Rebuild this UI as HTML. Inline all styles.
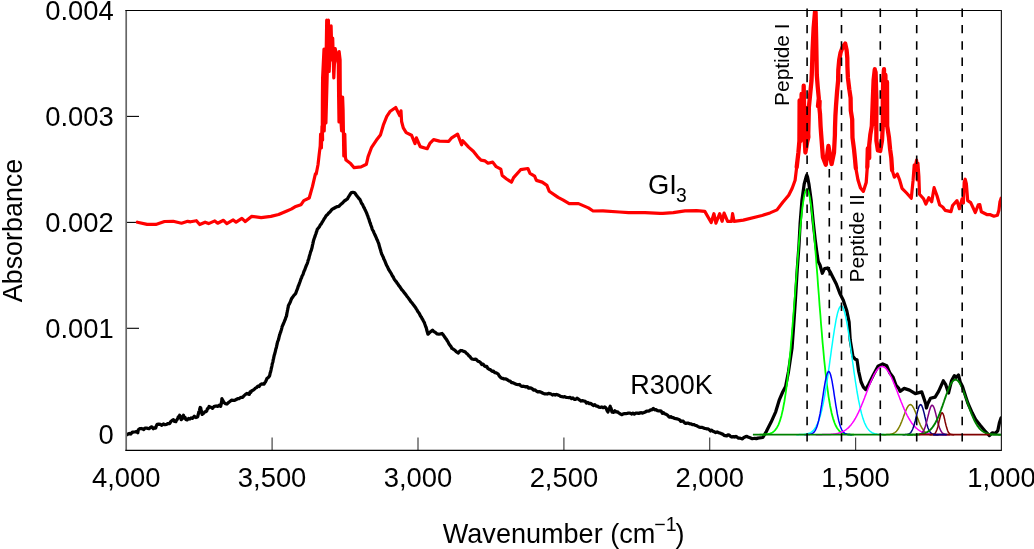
<!DOCTYPE html>
<html><head><meta charset="utf-8"><title>FTIR absorbance spectra</title>
<style>
html,body{margin:0;padding:0;background:#fff;}
body{width:1034px;height:549px;overflow:hidden;}
svg{display:block;}
text{font-family:"Liberation Sans",Arial,Helvetica,sans-serif;fill:#000;}
.t{font-size:27.4px;}
.p{font-size:20.9px;}
</style></head><body>
<svg width="1034" height="549" viewBox="0 0 1034 549">
<rect width="1034" height="549" fill="#fff"/>
<defs><clipPath id="c"><rect x="126.2" y="9.9" width="875.4" height="441"/></clipPath></defs>

<text class="t" x="113.8" y="19.9" text-anchor="end">0.004</text>
<line x1="126.2" y1="116.4" x2="139" y2="116.4" stroke="#000" stroke-width="1.1"/>
<text class="t" x="113.8" y="125.8" text-anchor="end">0.003</text>
<line x1="126.2" y1="222.4" x2="139" y2="222.4" stroke="#000" stroke-width="1.1"/>
<text class="t" x="113.8" y="231.8" text-anchor="end">0.002</text>
<line x1="126.2" y1="328.3" x2="139" y2="328.3" stroke="#000" stroke-width="1.1"/>
<text class="t" x="113.8" y="337.7" text-anchor="end">0.001</text>
<text class="t" x="113.8" y="443.6" text-anchor="end">0</text>
<g clip-path="url(#c)">
<polyline points="137.4,222.2 147.1,224.4 155.8,224.4 164.5,221.5 173.2,221.3 181.5,223.2 187.7,221.3 190.6,221.8 196.4,220.7 199.7,224.5 205.1,222.2 208.6,223.6 214.8,220.9 217.7,223.2 223.5,220.3 226.8,223.6 233.2,219.9 236.1,222.2 241.9,218.4 245.3,221.6 251.5,216.4 261.2,217.6 270.9,216.4 278.6,214.5 286.3,211.2 291.2,209.1 295.0,206.8 300.9,204.8 303.8,200.6 309.2,198.0 312.5,186.4 315.4,173.9 316.2,174.0 318.0,164.8 319.2,154.3 320.2,146.0 320.6,134.0 321.4,148.0 322.0,126.0 322.6,140.0 322.3,124.0 322.4,100.0 322.6,78.0 324.0,49.0 324.4,85.0 324.2,131.0 325.6,85.0 326.4,40.0 326.7,20.2 327.0,50.0 326.2,100.0 325.9,123.0 327.6,60.0 328.4,20.2 329.0,50.0 329.2,71.5 330.0,50.0 331.1,25.8 331.6,45.0 332.2,60.0 332.7,38.0 333.8,78.0 334.6,60.0 335.2,48.5 336.5,55.0 338.3,64.0 338.6,95.0 339.0,122.0 339.4,95.0 339.6,70.0 339.1,51.5 340.1,60.0 340.3,95.0 341.0,122.0 341.6,131.0 342.6,97.0 343.1,110.0 343.4,131.0 343.8,156.0 344.8,134.0 345.4,157.0 346.0,160.1 350.6,163.6 354.1,167.7 361.1,166.9 366.4,164.2 368.1,156.6 371.6,147.3 376.3,140.3 380.4,135.1 383.3,125.2 386.8,116.4 390.3,111.2 395.7,107.5 399.8,115.7 401.0,110.8 401.6,121.5 403.3,127.9 406.2,132.6 411.5,135.2 415.0,143.6 416.4,137.8 420.2,146.6 427.2,148.7 430.1,143.1 433.6,139.6 439.5,141.1 448.8,141.3 451.7,137.8 457.6,134.1 461.6,144.8 462.8,140.7 468.6,147.1 473.3,151.2 477.5,156.6 481.0,160.1 485.1,160.9 488.0,163.2 492.7,162.1 496.2,166.7 500.8,169.1 502.2,175.5 506.6,179.0 511.5,182.2 513.6,177.6 520.6,169.7 527.9,168.5 530.0,173.4 534.6,176.1 536.4,180.4 542.2,182.1 546.9,185.4 549.2,191.2 558.1,197.4 563.3,200.1 569.2,203.6 578.5,203.6 588.4,207.9 593.1,211.0 603.0,210.8 619.3,212.0 628.6,212.6 645.0,212.6 660.0,213.4 662.8,213.4 673.3,212.6 685.0,210.8 696.6,210.6 704.8,211.4 711.2,222.5 713.9,213.7 715.9,223.1 719.7,213.7 722.1,221.3 724.1,213.1 727.6,221.3 731.6,221.3 732.6,213.7 734.0,221.3 743.3,220.1 762.0,215.5 770.0,212.9 777.0,209.9 782.8,202.3 788.7,195.3 792.2,188.3 795.1,180.2 796.7,167.0" fill="none" stroke="#f00" stroke-width="3.2" stroke-linejoin="round" stroke-linecap="round"/>
<polyline points="796.7,167.0 798.4,152.5 799.4,141.0 799.6,100.5 800.6,141.0 801.6,94.0 802.6,139.0 803.7,85.7 804.6,138.0 805.4,152.5 807.2,142.0 808.4,137.0 807.2,108.0 808.2,136.0 808.6,120.0 808.9,107.0 811.5,80.8 812.0,69.0 812.5,51.6 813.6,28.3 815.0,12.0 815.4,9.0 814.7,57.0 815.6,12.0 816.2,40.0 816.7,69.0 816.8,75.0 817.7,86.7 818.8,98.3 818.0,106.0 819.6,101.0 819.4,108.0 820.0,113.7 820.6,126.6 821.2,135.0 822.9,157.2 825.8,164.7 828.4,146.0 831.6,164.0 834.0,152.5 834.9,135.0 835.0,128.0 835.4,116.0 836.0,106.0 837.0,92.5 838.1,80.8 838.3,70.0 839.2,60.0 840.6,52.5 842.5,47.5 845.2,43.6 846.6,50.0 847.3,58.0 847.4,66.0 847.9,77.7 849.3,89.3 850.6,98.0 850.8,110.6 852.2,119.3 852.3,128.0 852.5,137.7 854.0,149.3 854.9,158.0 855.8,168.0" fill="none" stroke="#f00" stroke-width="4.3" stroke-linejoin="round" stroke-linecap="round"/>
<polyline points="867.3,167.0 867.8,148.5 869.2,158.0 869.2,145.2 870.3,134.7 871.8,126.0 872.8,100.0 873.6,80.0 874.8,69.2 874.6,124.0 875.6,72.0 876.4,100.0 876.3,126.0 876.4,140.6 877.9,150.5 880.2,151.0 882.0,140.6 882.8,126.0 882.8,100.0 883.2,80.0 884.0,69.2 884.4,125.0 885.4,75.0 886.2,124.0 887.0,82.0 887.2,126.0 889.0,137.7 890.1,149.3 891.3,158.0 892.1,170.0" fill="none" stroke="#f00" stroke-width="4.3" stroke-linejoin="round" stroke-linecap="round"/>
<polyline points="855.8,168.0 858.0,180.0 860.5,188.0 863.4,191.3 866.2,182.5 867.3,167.0" fill="none" stroke="#f00" stroke-width="3.3" stroke-linejoin="round" stroke-linecap="round"/>
<polyline points="892.1,170.0 894.4,177.2 897.3,174.0 899.7,180.2 902.0,188.3 906.6,193.0 911.3,198.2 913.1,180.2 914.2,165.0 915.0,168.0 916.6,160.0 917.2,180.0 917.9,163.0 918.9,176.7 919.5,194.2 923.6,198.8 925.9,204.0 928.8,197.7 931.7,201.7 934.1,187.7 937.0,195.7 939.7,205.0 942.7,207.0 945.2,210.4 951.0,211.6 952.6,205.5 957.0,200.6 959.4,208.7 962.1,199.0 963.4,203.0 964.2,182.0 965.2,179.2 966.4,184.0 967.7,200.6 970.7,202.6 972.8,207.2 975.3,212.5 978.3,204.8 979.8,204.6 981.3,211.7 987.3,214.7 990.4,214.7 993.9,216.2 997.4,215.2 998.9,210.2 999.9,202.1 1001.2,198.1" fill="none" stroke="#f00" stroke-width="3.2" stroke-linejoin="round" stroke-linecap="round"/>
<polyline points="126.2,435.1 127.7,434.3 129.3,433.5 130.8,434.1 132.4,432.0 133.9,432.0 135.2,431.9 136.5,431.6 137.8,432.7 138.2,430.3 138.6,429.5 139.9,428.6 141.2,428.5 142.5,428.9 143.8,429.6 145.0,428.0 146.3,428.0 147.7,428.4 149.0,428.7 150.4,427.5 151.8,426.8 153.3,428.7 154.9,427.6 155.6,428.1 156.4,425.8 157.2,424.3 158.7,424.1 160.3,424.4 161.8,425.3 163.4,424.0 164.9,424.7 166.5,424.4 168.0,423.5 169.6,423.5 170.9,421.5 172.1,420.5 173.4,419.8 174.6,421.5 175.8,421.7 176.4,420.4 177.1,419.7 177.7,418.3 178.3,416.8 179.0,416.7 179.6,415.3 180.2,416.0 180.7,418.2 181.2,419.6 182.0,419.0 182.7,417.4 183.5,415.3 184.3,417.9 185.1,417.5 185.8,419.4 187.2,419.9 188.5,418.5 189.9,419.0 191.3,417.9 192.3,418.3 193.3,417.6 194.3,416.3 195.9,417.5 197.4,416.9 197.8,416.4 198.1,414.9 198.5,413.6 198.8,412.1 199.2,411.6 199.5,410.6 199.9,408.4 200.2,407.5 200.7,407.8 201.2,410.7 201.6,412.1 202.1,414.4 203.4,413.5 204.7,411.9 206.0,411.6 206.7,411.0 207.5,408.5 208.3,408.3 209.1,406.5 210.2,407.0 211.4,407.5 212.6,408.4 213.9,406.6 215.1,406.2 216.3,406.0 217.6,406.4 219.1,405.2 220.7,406.3 220.9,405.0 221.2,404.3 221.4,402.7 221.7,401.3 221.9,398.7 222.9,400.7 223.8,402.2 225.3,403.6 226.9,404.0 228.4,402.6 229.5,401.8 230.5,401.0 231.5,400.1 233.1,400.4 234.6,400.4 236.2,399.5 237.7,398.7 239.0,398.7 240.2,397.8 241.4,397.4 242.7,397.3 243.9,395.9 245.5,394.4 247.0,393.5 249.3,394.4 250.1,391.8 250.9,392.2 251.7,390.7 252.9,390.3 254.1,389.5 255.4,388.1 256.6,387.5 257.9,386.2 259.1,386.5 260.4,384.6 261.7,383.8 264.1,384.1 264.8,382.7 265.6,381.7 266.4,379.8 267.1,378.3 268.3,377.5 269.5,375.9 269.9,374.6 270.2,372.8 270.6,371.8 271.0,370.1 271.3,368.5 271.6,367.3 271.9,366.0 272.1,364.8 272.4,363.3 272.7,362.5 273.0,361.3 273.2,359.7 273.6,358.4 273.9,356.8 274.2,355.4 274.6,354.3 274.9,352.9 275.2,352.0 275.6,350.2 275.9,348.7 276.2,348.1 276.6,346.4 276.9,344.9 277.2,343.8 277.5,342.1 277.9,341.1 278.3,340.2 278.7,338.8 279.0,337.4 279.4,335.8 279.8,334.6 280.2,333.1 280.6,332.3 281.0,330.8 281.4,329.7 281.8,328.1 282.1,326.7 282.5,325.8 283.1,324.6 283.6,323.2 284.2,321.9 284.7,320.5 285.3,319.2 285.8,317.5 286.4,316.3 286.7,314.9 286.9,313.3 287.2,311.9 287.4,310.8 287.7,309.4 287.9,308.3 288.2,307.2 288.4,305.5 289.1,304.4 289.8,303.0 290.5,301.6 291.1,299.8 291.8,298.3 292.6,297.2 293.4,296.1 294.1,295.1 294.9,294.3 295.7,293.4 296.2,292.0 296.7,290.5 297.2,289.3 297.7,288.1 298.2,286.3 298.7,285.4 299.1,284.2 299.6,282.8 300.1,281.5 300.6,280.0 301.1,278.5 301.6,277.6 302.1,276.0 302.7,275.0 303.2,273.8 303.7,272.2 304.2,270.9 304.7,270.0 305.2,268.5 305.8,266.9 306.3,265.6 306.8,264.3 307.3,263.5 307.7,262.1 308.1,260.4 308.5,259.6 308.9,258.4 309.2,256.9 309.6,255.4 310.0,254.2 310.4,252.7 310.8,251.3 311.2,250.6 311.6,249.1 312.0,247.8 312.2,246.7 312.5,245.1 312.8,244.1 313.1,242.7 313.4,241.1 313.8,239.8 314.2,238.5 314.7,237.2 315.1,236.1 315.5,234.7 316.0,233.5 316.4,232.0 316.8,231.2 317.2,229.5 318.0,228.4 318.8,227.4 319.6,226.4 320.3,224.9 321.1,224.1 321.9,222.7 322.7,221.4 323.4,220.2 324.2,218.7 325.0,217.7 325.8,216.3 326.6,215.2 327.5,214.7 328.4,213.3 329.3,212.5 330.2,211.6 331.1,210.5 332.0,209.4 333.2,208.7 334.5,208.0 335.8,207.3 337.4,206.6 338.9,206.4 340.0,205.2 341.1,204.1 342.2,203.3 343.3,202.1 344.3,201.0 345.9,200.0 347.4,198.9 348.2,197.4 349.0,196.2 349.8,194.9 350.5,193.7 351.3,192.6 352.9,192.4 354.4,192.5 355.3,193.6 356.2,195.0 357.1,196.1 358.0,197.3 358.9,198.5 359.8,199.3 360.5,200.7 361.1,202.2 361.7,203.4 362.4,204.3 363.0,205.5 363.6,207.0 364.3,208.0 364.9,209.4 365.5,210.6 366.2,212.2 366.8,213.5 367.3,214.9 367.7,215.7 368.2,217.4 368.6,218.6 369.1,219.6 369.5,221.3 370.0,222.7 370.4,223.5 370.9,225.3 371.3,226.2 371.8,227.6 372.2,229.2 372.8,230.3 373.4,231.2 373.9,232.6 374.5,233.9 375.0,235.1 375.6,236.3 376.2,237.6 376.7,239.1 377.3,240.0 377.9,241.6 378.4,242.8 378.8,243.9 379.2,245.5 379.6,247.1 380.0,248.4 380.4,249.5 380.9,251.4 381.3,252.7 381.7,254.2 382.2,255.0 382.8,256.3 383.4,257.5 383.9,259.2 384.5,260.1 385.0,261.3 385.6,262.8 386.2,264.3 386.7,265.5 387.3,266.5 387.9,267.7 388.5,269.3 389.2,270.3 389.9,271.6 390.6,272.5 391.3,273.6 392.0,275.2 392.7,276.3 393.4,277.3 394.1,279.0 394.8,279.9 395.6,281.1 396.4,281.7 397.1,283.3 397.9,283.9 398.7,285.4 399.5,286.3 400.2,287.3 401.0,288.5 401.8,289.8 402.6,290.5 403.4,291.5 404.3,292.8 405.1,293.7 405.9,294.8 406.7,295.9 407.5,296.9 408.4,298.1 409.2,299.2 410.0,300.3 411.0,301.9 412.0,302.9 413.0,304.3 413.9,305.4 414.7,306.6 415.5,307.6 416.3,308.9 417.0,309.9 417.8,311.5 418.6,312.6 419.3,313.5 419.9,314.8 420.6,316.3 421.3,316.9 422.0,318.5 422.7,319.5 423.3,320.7 424.0,322.0 424.5,323.0 424.9,324.3 425.4,325.7 425.9,327.1 426.3,327.9 426.7,329.8 427.1,331.2 427.5,332.7 427.9,334.2 429.0,333.2 430.2,332.0 431.4,331.1 432.5,330.1 433.7,331.5 434.9,332.1 436.0,333.0 437.2,334.0 438.8,334.2 440.5,333.9 442.1,333.5 443.0,334.5 443.9,335.8 444.7,337.0 445.6,338.4 446.5,339.4 447.2,340.8 448.0,341.9 448.8,343.6 449.6,344.8 450.3,345.7 451.1,346.8 451.9,348.4 452.9,348.9 454.0,349.7 455.0,350.3 456.0,351.4 457.1,352.3 458.1,353.1 459.4,351.6 460.7,350.5 462.2,350.7 463.6,351.4 465.1,351.8 466.1,353.0 467.0,353.7 468.0,354.7 469.0,355.9 470.0,356.6 471.0,358.1 472.0,359.0 474.0,359.4 475.9,359.2 477.1,360.3 478.2,361.5 479.4,361.7 480.5,362.6 481.8,364.5 483.0,364.1 484.3,365.8 485.5,366.5 486.7,366.4 487.8,368.4 489.0,369.2 490.1,369.6 491.3,370.6 492.5,371.4 493.6,371.2 494.8,372.6 496.3,372.9 497.9,373.8 498.7,374.9 499.4,376.2 500.2,377.0 501.4,378.1 502.6,378.3 503.9,378.9 505.1,378.8 506.3,379.1 507.5,379.9 508.7,380.8 510.1,381.0 511.4,382.6 512.8,382.7 514.1,383.3 515.5,383.9 516.9,384.5 518.2,384.7 519.6,384.5 520.9,386.0 522.1,386.3 523.4,386.2 524.7,386.6 526.0,387.1 527.3,386.6 528.6,388.1 529.9,387.9 531.2,388.2 532.5,389.0 533.8,390.2 535.1,389.9 536.4,391.1 537.7,391.9 539.0,391.7 540.4,391.9 541.7,392.5 543.0,393.3 544.3,393.8 545.7,393.8 547.1,394.0 548.4,393.4 549.8,393.7 551.1,394.0 552.5,395.0 553.8,394.5 555.2,395.1 556.5,394.5 557.9,394.9 559.3,395.5 560.6,396.4 562.0,396.7 563.3,397.0 564.7,396.7 566.0,397.3 567.4,397.5 568.8,397.7 570.2,397.4 571.5,398.7 572.9,397.9 574.3,399.3 575.7,399.4 577.0,398.2 578.4,399.1 579.8,400.2 581.1,401.0 582.5,400.7 583.8,401.0 585.2,401.4 586.6,403.1 587.9,402.5 589.3,403.6 590.6,403.4 592.0,404.4 593.4,405.5 594.8,404.7 596.2,406.1 597.5,406.1 598.9,407.1 600.3,407.3 601.7,407.0 603.2,407.7 604.8,406.9 605.5,407.5 606.3,408.7 607.1,410.7 607.9,412.0 608.4,410.4 609.0,408.8 609.6,407.7 610.2,406.3 610.6,408.4 611.1,408.3 611.6,410.7 612.0,412.1 612.5,412.2 613.7,412.3 614.8,410.8 616.2,412.0 617.5,411.9 618.9,413.0 620.2,413.9 621.6,414.7 623.0,414.0 624.4,413.6 625.8,413.7 627.2,413.4 628.6,413.0 630.0,413.0 631.5,414.0 632.9,413.2 634.3,414.1 635.8,413.1 637.2,413.1 638.7,413.4 640.1,412.9 641.4,412.7 642.7,413.1 644.0,412.6 645.3,412.0 646.6,411.2 647.9,411.2 649.2,410.9 650.6,409.9 651.9,409.8 653.3,408.4 654.7,409.8 656.0,409.7 657.4,410.6 658.7,410.8 659.9,410.9 661.1,411.2 662.3,413.2 663.5,412.6 664.7,413.8 666.0,414.3 667.2,414.9 668.4,416.2 669.6,417.2 670.8,416.6 672.0,417.6 673.3,417.6 674.5,418.4 675.8,418.6 677.0,418.8 678.2,419.2 679.5,419.7 680.7,421.3 682.0,421.1 683.2,421.2 684.5,422.8 685.8,423.4 687.1,423.1 688.4,423.2 689.7,423.8 691.1,423.9 692.4,424.7 693.8,424.6 695.1,425.2 696.5,425.6 697.8,426.4 699.2,427.2 700.5,427.4 701.8,427.3 703.0,427.7 704.3,428.3 705.5,428.5 706.7,428.8 708.0,428.9 709.2,429.6 710.5,431.0 711.7,430.2 712.9,431.2 714.3,431.8 715.7,432.6 717.1,432.0 718.4,432.6 719.8,433.0 721.2,433.6 722.6,434.1 724.0,435.3 725.3,435.6 726.7,435.9 728.0,434.9 729.3,435.2 730.6,436.4 732.0,437.0 733.3,436.6 734.6,437.0 735.9,436.4 737.2,437.2 738.5,438.2 739.8,438.2 741.1,438.5 742.4,438.9 743.9,437.4 745.5,436.7 747.0,436.4 748.6,437.3 750.1,437.8 751.7,438.5 753.2,438.5 754.8,438.4 756.3,438.6 757.9,438.1 762.8,437.5 766.3,431.6 771.0,422.3 775.7,411.8 779.2,400.2 782.7,392.0 785.6,386.5 788.5,371.6 792.0,348.3 793.7,325.0 795.4,300.0 797.2,270.0 799.0,245.0 800.1,224.0 801.9,200.8 804.2,184.0 806.0,177.3 806.8,175.0 807.6,177.3 808.9,184.0 811.2,200.8 813.2,222.0 815.2,240.0 816.5,250.0 818.2,261.6 820.0,265.0 822.3,273.3 824.6,268.6 827.6,268.0 830.5,272.5 831.6,274.7 836.3,284.0 839.8,293.3 843.3,300.3 846.8,310.8 849.1,322.0 850.2,340.0 852.9,356.3 855.2,359.2 857.0,359.8 858.7,371.5 861.1,382.0 863.4,387.2 865.7,389.6 868.7,384.3 873.3,375.0 878.0,366.2 882.7,363.9 886.7,365.7 889.7,372.7 893.1,377.3 896.1,385.5 898.4,387.8 900.1,391.3 904.2,388.4 909.5,390.1 915.3,393.6 921.7,391.9 923.5,397.1 925.8,404.0 926.4,408.0 927.6,404.0 930.5,398.3 935.1,397.1 938.6,391.3 943.3,380.8 945.6,384.3 948.5,393.0 951.5,380.8 954.4,375.6 956.1,377.3 958.5,375.0 960.2,382.0 962.5,386.6 965.5,396.0 967.8,403.0 972.2,412.8 975.6,419.4 980.0,425.0 985.6,431.7 989.4,435.6 992.2,432.8 995.6,433.3 997.8,430.6 999.4,422.8 1001.1,417.8" fill="none" stroke="#000" stroke-width="3.25" stroke-linejoin="round" stroke-linecap="round"/>
<polyline points="759.6,434.7 760.4,434.7 761.1,434.6 761.9,434.6 762.6,434.6 763.4,434.6 764.1,434.5 764.9,434.5 765.6,434.4 766.4,434.3 767.1,434.2 767.9,434.1 768.6,433.9 769.4,433.8 770.1,433.5 770.9,433.2 771.6,432.9 772.4,432.5 773.1,432.0 773.9,431.4 774.6,430.7 775.4,429.8 776.1,428.8 776.9,427.7 777.6,426.3 778.4,424.8 779.1,423.0 779.9,420.9 780.6,418.6 781.4,415.9 782.1,412.9 782.9,409.5 783.6,405.7 784.4,401.5 785.1,396.8 785.9,391.7 786.6,386.1 787.4,380.1 788.1,373.5 788.9,366.5 789.6,359.0 790.4,351.0 791.1,342.6 791.9,333.8 792.6,324.7 793.4,315.3 794.1,305.6 794.9,295.8 795.6,285.9 796.4,275.9 797.1,266.1 797.9,256.5 798.6,247.2 799.4,238.2 800.1,229.7 800.9,221.8 801.6,214.6 802.4,208.2 803.1,202.6 803.9,197.9 804.6,194.2 805.4,191.5 806.1,189.8 806.9,189.3 807.6,189.8 808.4,191.5 809.1,194.2 809.9,197.9 810.6,202.6 811.4,208.2 812.1,214.6 812.9,221.8 813.6,229.7 814.4,238.2 815.1,247.2 815.9,256.5 816.6,266.1 817.4,275.9 818.1,285.9 818.9,295.8 819.6,305.6 820.4,315.3 821.1,324.7 821.9,333.8 822.6,342.6 823.4,351.0 824.1,359.0 824.9,366.5 825.6,373.5 826.4,380.1 827.1,386.1 827.9,391.7 828.6,396.8 829.4,401.5 830.1,405.7 830.9,409.5 831.6,412.9 832.4,415.9 833.1,418.6 833.9,420.9 834.6,423.0 835.4,424.8 836.1,426.3 836.9,427.7 837.6,428.8 838.4,429.8 839.1,430.7 839.9,431.4 840.6,432.0 841.4,432.5 842.1,432.9 842.9,433.2 843.6,433.5 844.4,433.8 845.1,433.9 845.9,434.1 846.6,434.2 847.4,434.3 848.1,434.4 848.9,434.5 849.6,434.5 850.4,434.6 851.1,434.6 851.9,434.6 852.6,434.6 853.4,434.7 854.1,434.7" fill="none" stroke="#00ff00" stroke-width="1.8" stroke-linejoin="round"/>
<polyline points="796.3,434.7 797.0,434.7 797.8,434.7 798.5,434.7 799.3,434.6 800.0,434.6 800.8,434.6 801.5,434.6 802.3,434.5 803.0,434.5 803.8,434.4 804.5,434.3 805.3,434.2 806.0,434.1 806.8,434.0 807.5,433.8 808.3,433.6 809.0,433.3 809.8,433.0 810.5,432.6 811.3,432.1 812.0,431.6 812.8,430.9 813.5,430.2 814.3,429.3 815.0,428.3 815.8,427.1 816.5,425.7 817.3,424.2 818.0,422.4 818.8,420.4 819.5,418.2 820.3,415.7 821.0,413.0 821.8,410.0 822.5,406.7 823.3,403.1 824.0,399.3 824.8,395.1 825.5,390.7 826.3,386.1 827.0,381.2 827.8,376.2 828.5,370.9 829.3,365.6 830.0,360.2 830.8,354.7 831.5,349.2 832.3,343.8 833.0,338.6 833.8,333.6 834.5,328.8 835.3,324.3 836.0,320.2 836.8,316.5 837.5,313.3 838.3,310.7 839.0,308.6 839.8,307.1 840.5,306.2 841.3,305.9 842.0,306.3 842.8,307.3 843.5,308.9 844.3,311.1 845.0,313.8 845.8,317.1 846.5,320.8 847.3,325.0 848.0,329.5 848.8,334.4 849.5,339.4 850.3,344.7 851.0,350.1 851.8,355.6 852.5,361.0 853.3,366.5 854.0,371.8 854.8,377.0 855.5,382.0 856.3,386.9 857.0,391.5 857.8,395.8 858.5,399.9 859.3,403.7 860.0,407.2 860.8,410.5 861.5,413.4 862.3,416.1 863.0,418.6 863.8,420.7 864.5,422.7 865.3,424.4 866.0,425.9 866.8,427.3 867.5,428.4 868.3,429.4 869.0,430.3 869.8,431.0 870.5,431.7 871.3,432.2 872.0,432.7 872.8,433.0 873.5,433.4 874.3,433.6 875.0,433.8 875.8,434.0 876.5,434.1 877.3,434.3 878.0,434.4 878.8,434.4 879.5,434.5 880.3,434.5 881.0,434.6 881.8,434.6 882.5,434.6 883.3,434.6 884.0,434.7 884.8,434.7 885.5,434.7" fill="none" stroke="#00ffff" stroke-width="1.5" stroke-linejoin="round"/>
<polyline points="804.3,434.7 805.1,434.7 805.8,434.7 806.6,434.7 807.3,434.6 808.1,434.6 808.8,434.5 809.6,434.4 810.3,434.3 811.1,434.1 811.8,433.8 812.6,433.4 813.3,432.8 814.1,432.1 814.8,431.1 815.6,429.8 816.3,428.2 817.1,426.2 817.8,423.8 818.6,420.9 819.3,417.5 820.1,413.7 820.8,409.5 821.6,404.9 822.3,400.1 823.1,395.1 823.8,390.2 824.6,385.5 825.3,381.3 826.1,377.6 826.8,374.7 827.6,372.6 828.3,371.6 829.1,371.6 829.8,372.7 830.6,374.8 831.3,377.7 832.1,381.4 832.8,385.7 833.6,390.4 834.3,395.3 835.1,400.3 835.8,405.1 836.6,409.6 837.3,413.9 838.1,417.7 838.8,421.0 839.6,423.9 840.3,426.3 841.1,428.2 841.8,429.8 842.6,431.1 843.3,432.1 844.1,432.8 844.8,433.4 845.6,433.8 846.3,434.1 847.1,434.3 847.8,434.4 848.6,434.5 849.3,434.6 850.1,434.6 850.8,434.7 851.6,434.7 852.3,434.7" fill="none" stroke="#0000ff" stroke-width="1.5" stroke-linejoin="round"/>
<polyline points="882.2,434.7 882.9,434.7 883.7,434.7 884.4,434.7 885.2,434.7 885.9,434.7 886.7,434.6 887.4,434.6 888.2,434.6 888.9,434.5 889.7,434.4 890.4,434.3 891.2,434.2 891.9,434.0 892.7,433.8 893.4,433.4 894.2,433.0 894.9,432.5 895.7,431.9 896.4,431.2 897.2,430.3 897.9,429.3 898.7,428.0 899.4,426.7 900.2,425.1 900.9,423.4 901.7,421.6 902.4,419.7 903.2,417.6 903.9,415.6 904.7,413.6 905.4,411.6 906.2,409.8 906.9,408.2 907.7,406.8 908.4,405.8 909.2,405.0 909.9,404.7 910.7,404.6 911.4,405.0 912.2,405.7 912.9,406.8 913.7,408.2 914.4,409.8 915.2,411.6 915.9,413.5 916.7,415.5 917.4,417.6 918.2,419.6 918.9,421.5 919.7,423.4 920.4,425.1 921.2,426.6 921.9,428.0 922.7,429.2 923.4,430.3 924.2,431.2 924.9,431.9 925.7,432.5 926.4,433.0 927.2,433.4 927.9,433.7 928.7,434.0 929.4,434.2 930.2,434.3 930.9,434.4 931.7,434.5 932.4,434.6 933.2,434.6 933.9,434.6 934.7,434.7 935.4,434.7 936.2,434.7 936.9,434.7 937.7,434.7 938.4,434.7" fill="none" stroke="#808000" stroke-width="1.5" stroke-linejoin="round"/>
<polyline points="815.7,434.7 816.5,434.7 817.2,434.7 818.0,434.7 818.7,434.7 819.5,434.7 820.2,434.7 821.0,434.7 821.7,434.7 822.5,434.6 823.2,434.6 824.0,434.6 824.7,434.6 825.5,434.6 826.2,434.6 827.0,434.5 827.7,434.5 828.5,434.5 829.2,434.4 830.0,434.4 830.7,434.4 831.5,434.3 832.2,434.2 833.0,434.2 833.7,434.1 834.5,434.0 835.2,433.9 836.0,433.7 836.7,433.6 837.5,433.4 838.2,433.3 839.0,433.1 839.7,432.8 840.5,432.6 841.2,432.3 842.0,432.0 842.7,431.6 843.5,431.3 844.2,430.8 845.0,430.4 845.7,429.9 846.5,429.3 847.2,428.7 848.0,428.1 848.7,427.4 849.5,426.6 850.2,425.8 851.0,424.9 851.7,423.9 852.5,422.9 853.2,421.8 854.0,420.7 854.7,419.5 855.5,418.2 856.2,416.8 857.0,415.4 857.7,413.9 858.5,412.4 859.2,410.8 860.0,409.1 860.7,407.4 861.5,405.6 862.2,403.7 863.0,401.9 863.7,400.0 864.5,398.1 865.2,396.1 866.0,394.1 866.7,392.2 867.5,390.2 868.2,388.3 869.0,386.4 869.7,384.5 870.5,382.6 871.2,380.8 872.0,379.1 872.7,377.5 873.5,375.9 874.2,374.4 875.0,373.1 875.7,371.8 876.5,370.7 877.2,369.7 878.0,368.8 878.7,368.0 879.5,367.4 880.2,367.0 881.0,366.7 881.7,366.5 882.5,366.5 883.2,366.7 884.0,367.0 884.7,367.4 885.5,368.1 886.2,368.8 887.0,369.7 887.7,370.7 888.5,371.9 889.2,373.1 890.0,374.5 890.7,376.0 891.5,377.5 892.2,379.2 893.0,380.9 893.7,382.7 894.5,384.6 895.2,386.4 896.0,388.4 896.7,390.3 897.5,392.3 898.2,394.2 899.0,396.2 899.7,398.1 900.5,400.1 901.2,402.0 902.0,403.8 902.7,405.6 903.5,407.4 904.2,409.1 905.0,410.8 905.7,412.4 906.5,414.0 907.2,415.5 908.0,416.9 908.7,418.2 909.5,419.5 910.2,420.7 911.0,421.9 911.7,423.0 912.5,424.0 913.2,424.9 914.0,425.8 914.7,426.6 915.5,427.4 916.2,428.1 917.0,428.7 917.7,429.3 918.5,429.9 919.2,430.4 920.0,430.9 920.7,431.3 921.5,431.7 922.2,432.0 923.0,432.3 923.7,432.6 924.5,432.8 925.2,433.1 926.0,433.3 926.7,433.4 927.5,433.6 928.2,433.7 929.0,433.9 929.7,434.0 930.5,434.1 931.2,434.2 932.0,434.2 932.7,434.3 933.5,434.4 934.2,434.4 935.0,434.4 935.7,434.5 936.5,434.5 937.2,434.5 938.0,434.6 938.7,434.6 939.5,434.6 940.2,434.6 941.0,434.6 941.7,434.6 942.5,434.7 943.2,434.7 944.0,434.7 944.7,434.7 945.5,434.7 946.2,434.7 947.0,434.7 947.7,434.7" fill="none" stroke="#ff00ff" stroke-width="1.5" stroke-linejoin="round"/>
<polyline points="902.5,434.7 903.3,434.7 904.0,434.7 904.8,434.7 905.5,434.6 906.3,434.6 907.0,434.5 907.8,434.3 908.5,434.1 909.3,433.8 910.0,433.2 910.8,432.5 911.5,431.4 912.3,430.0 913.0,428.3 913.8,426.1 914.5,423.5 915.3,420.7 916.0,417.5 916.8,414.4 917.5,411.3 918.3,408.6 919.0,406.5 919.8,405.1 920.5,404.6 921.3,405.0 922.0,406.2 922.8,408.3 923.5,410.9 924.3,413.9 925.0,417.0 925.8,420.2 926.5,423.1 927.3,425.7 928.0,428.0 928.8,429.8 929.5,431.2 930.3,432.3 931.0,433.1 931.8,433.7 932.5,434.1 933.3,434.3 934.0,434.5 934.8,434.6 935.5,434.6 936.3,434.7 937.0,434.7 937.8,434.7 938.5,434.7" fill="none" stroke="#000080" stroke-width="1.5" stroke-linejoin="round"/>
<polyline points="914.1,434.7 914.9,434.7 915.6,434.7 916.4,434.7 917.1,434.6 917.9,434.6 918.6,434.5 919.4,434.4 920.1,434.1 920.9,433.8 921.6,433.3 922.4,432.5 923.1,431.5 923.9,430.1 924.6,428.4 925.4,426.3 926.1,423.8 926.9,420.9 927.6,417.9 928.4,414.8 929.1,411.8 929.9,409.2 930.6,407.1 931.4,405.7 932.1,405.2 932.9,405.6 933.6,406.8 934.4,408.8 935.1,411.3 935.9,414.3 936.6,417.4 937.4,420.5 938.1,423.3 938.9,425.9 939.6,428.1 940.4,429.9 941.1,431.3 941.9,432.4 942.6,433.2 943.4,433.7 944.1,434.1 944.9,434.3 945.6,434.5 946.4,434.6 947.1,434.6 947.9,434.7 948.6,434.7 949.4,434.7 950.1,434.7" fill="none" stroke="#800080" stroke-width="1.5" stroke-linejoin="round"/>
<polyline points="929.5,434.7 930.2,434.7 931.0,434.7 931.8,434.6 932.5,434.6 933.2,434.4 934.0,434.1 934.8,433.6 935.5,432.7 936.2,431.4 937.0,429.5 937.8,427.0 938.5,424.0 939.2,420.7 940.0,417.5 940.8,414.8 941.5,413.1 942.2,412.7 943.0,413.7 943.8,415.8 944.5,418.7 945.2,422.0 946.0,425.2 946.8,428.1 947.5,430.3 948.2,432.0 949.0,433.1 949.8,433.8 950.5,434.3 951.2,434.5 952.0,434.6 952.8,434.7 953.5,434.7 954.2,434.7" fill="none" stroke="#800000" stroke-width="1.5" stroke-linejoin="round"/>
<polyline points="907.2,434.7 908.0,434.7 908.7,434.7 909.5,434.7 910.2,434.7 911.0,434.7 911.7,434.7 912.5,434.7 913.2,434.6 914.0,434.6 914.7,434.6 915.5,434.6 916.2,434.5 917.0,434.5 917.7,434.5 918.5,434.4 919.2,434.3 920.0,434.2 920.7,434.1 921.5,434.0 922.2,433.9 923.0,433.7 923.7,433.5 924.5,433.3 925.2,433.0 926.0,432.7 926.7,432.3 927.5,431.9 928.2,431.4 929.0,430.9 929.7,430.3 930.5,429.6 931.2,428.8 932.0,427.9 932.7,427.0 933.5,425.9 934.2,424.8 935.0,423.6 935.7,422.2 936.5,420.8 937.2,419.2 938.0,417.5 938.7,415.8 939.5,413.9 940.2,412.0 941.0,410.0 941.7,407.9 942.5,405.8 943.2,403.7 944.0,401.5 944.7,399.3 945.5,397.2 946.2,395.0 947.0,393.0 947.7,391.0 948.5,389.1 949.2,387.4 950.0,385.7 950.7,384.3 951.5,383.0 952.2,381.9 953.0,381.0 953.7,380.4 954.5,379.9 955.2,379.7 956.0,379.7 956.7,380.0 957.5,380.5 958.2,381.2 959.0,382.1 959.7,383.2 960.5,384.6 961.2,386.1 962.0,387.7 962.7,389.5 963.5,391.4 964.2,393.4 965.0,395.5 965.7,397.6 966.5,399.7 967.2,401.9 968.0,404.1 968.7,406.2 969.5,408.3 970.2,410.4 971.0,412.4 971.7,414.3 972.5,416.1 973.2,417.9 974.0,419.5 974.7,421.1 975.5,422.5 976.2,423.8 977.0,425.0 977.7,426.2 978.5,427.2 979.2,428.1 980.0,429.0 980.7,429.7 981.5,430.4 982.2,431.0 983.0,431.5 983.7,432.0 984.5,432.4 985.2,432.7 986.0,433.0 986.7,433.3 987.5,433.5 988.2,433.7 989.0,433.9 989.7,434.0 990.5,434.2 991.2,434.3 992.0,434.3 992.7,434.4 993.5,434.5 994.2,434.5 995.0,434.5 995.7,434.6 996.5,434.6 997.2,434.6 998.0,434.6 998.7,434.7 999.5,434.7 1000.2,434.7 1001.0,434.7" fill="none" stroke="#008000" stroke-width="1.9" stroke-linejoin="round"/>
<line x1="752.9" y1="434.7" x2="919" y2="434.7" stroke="#008000" stroke-width="1.8"/>
<line x1="919" y1="434.7" x2="990" y2="434.7" stroke="#800000" stroke-width="1.8"/>
<line x1="933" y1="434.7" x2="946.7" y2="434.7" stroke="#000080" stroke-width="1.8"/>
<line x1="990" y1="434.7" x2="1000.5" y2="434.7" stroke="#008000" stroke-width="1.8"/>
</g>
<line x1="807.1" y1="8.6" x2="807.1" y2="443" stroke="#000" stroke-width="1.6" stroke-dasharray="8.4 7.93"/>
<line x1="841.5" y1="8.6" x2="841.5" y2="443" stroke="#000" stroke-width="1.6" stroke-dasharray="8.4 7.93"/>
<line x1="880.3" y1="8.6" x2="880.3" y2="443" stroke="#000" stroke-width="1.6" stroke-dasharray="8.4 7.93"/>
<line x1="916.7" y1="8.6" x2="916.7" y2="443" stroke="#000" stroke-width="1.6" stroke-dasharray="8.4 7.93"/>
<line x1="962.2" y1="8.6" x2="962.2" y2="443" stroke="#000" stroke-width="1.6" stroke-dasharray="8.4 7.93"/>
<line x1="829.3" y1="169.1" x2="829.3" y2="338" stroke="#000" stroke-width="1.6" stroke-dasharray="8.4 7.93"/>
<text class="t" x="126.2" y="487.3" text-anchor="middle">4,000</text>
<line x1="272.1" y1="437.5" x2="272.1" y2="450.3" stroke="#444" stroke-width="1.2"/>
<text class="t" x="272.1" y="487.3" text-anchor="middle">3,500</text>
<line x1="418.0" y1="437.5" x2="418.0" y2="450.3" stroke="#444" stroke-width="1.2"/>
<text class="t" x="418.0" y="487.3" text-anchor="middle">3,000</text>
<line x1="563.9" y1="437.5" x2="563.9" y2="450.3" stroke="#444" stroke-width="1.2"/>
<text class="t" x="563.9" y="487.3" text-anchor="middle">2,500</text>
<line x1="709.7" y1="437.5" x2="709.7" y2="450.3" stroke="#444" stroke-width="1.2"/>
<text class="t" x="709.7" y="487.3" text-anchor="middle">2,000</text>
<line x1="855.6" y1="437.5" x2="855.6" y2="450.3" stroke="#444" stroke-width="1.2"/>
<text class="t" x="855.6" y="487.3" text-anchor="middle">1,500</text>
<text class="t" x="1001.5" y="487.3" text-anchor="middle">1,000</text>
<line x1="126.2" y1="10" x2="126.2" y2="450.9" stroke="#666" stroke-width="1.7"/>
<line x1="125.4" y1="10.5" x2="1002" y2="10.5" stroke="#000" stroke-width="1.2"/>
<line x1="125.4" y1="450.3" x2="1002" y2="450.3" stroke="#000" stroke-width="1.2"/>
<line x1="1001.4" y1="10" x2="1001.4" y2="450.9" stroke="#222" stroke-width="1.2"/>
<text transform="translate(22.4,230.5) rotate(-90)" text-anchor="middle" font-size="26.9px">Absorbance</text>
<text x="442.8" y="542.9" font-size="27.05px">Wavenumber (cm<tspan dy="-12.4" dx="-0.9" font-size="19.6px">−1</tspan><tspan dy="12.4" dx="-1.2">)</tspan></text>
<text class="t" x="648" y="194.2">GI<tspan dy="8.1" dx="-0.8" font-size="19.3px">3</tspan></text>
<text x="630.2" y="394.4" font-size="27px">R300K</text>
<text class="p" transform="translate(789.2,105.9) rotate(-90)">Peptide I</text>
<text class="p" transform="translate(864.4,282.4) rotate(-90)">Peptide II</text>
</svg></body></html>
